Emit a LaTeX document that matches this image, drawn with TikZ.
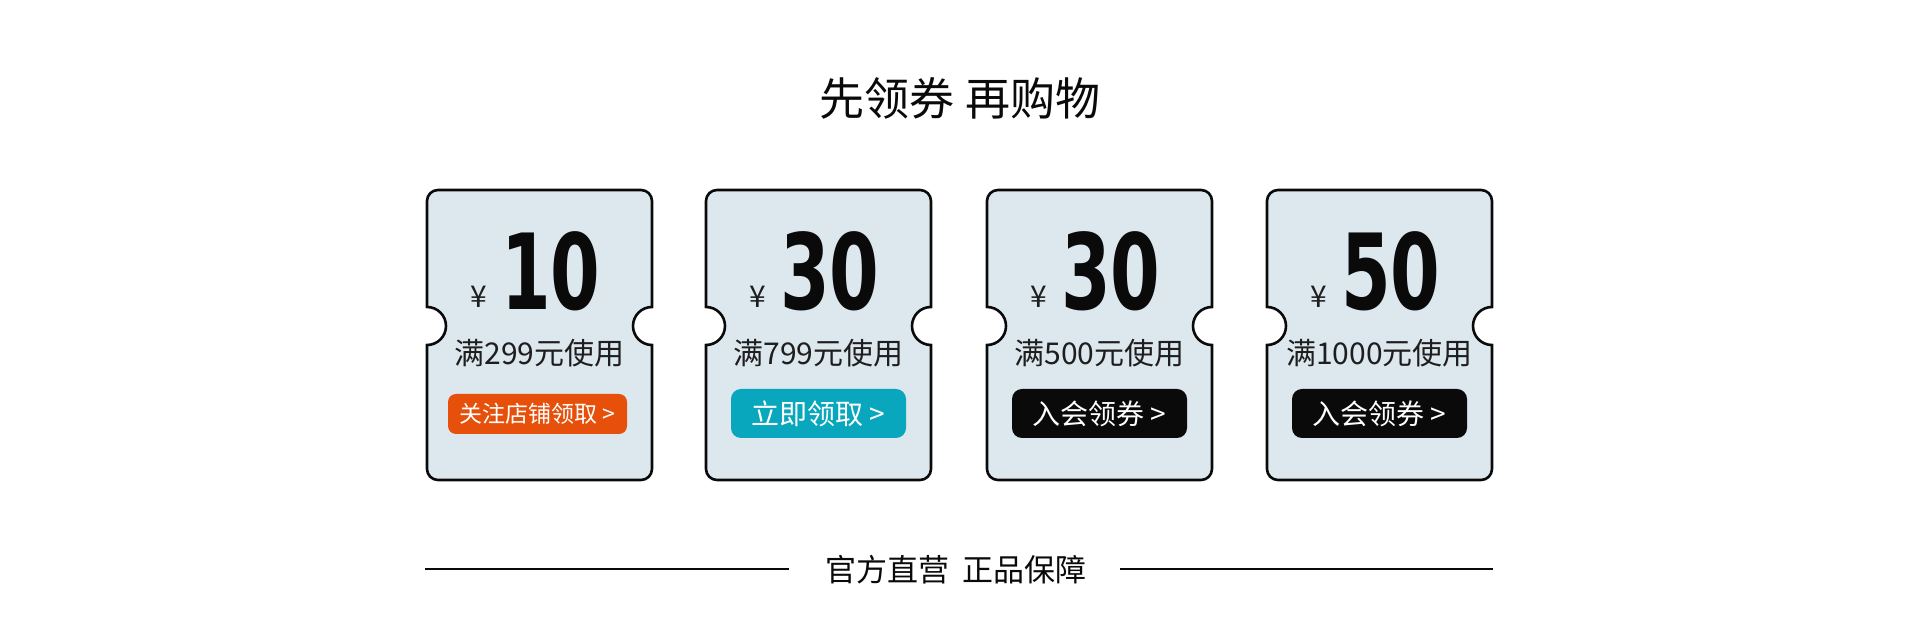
\documentclass[tikz,border=0pt]{standalone}
\usepackage{fontspec}
\setmainfont{Noto Sans CJK SC}
\newfontfamily\numfont[FakeStretch=0.68]{DejaVu Sans}
\begin{document}
\begin{tikzpicture}[x=1pt, y=1pt, inner sep=0pt, outer sep=0pt,
  coupon/.style={line width=2.6, draw=L, fill=C},
  yen/.style={anchor=base west, text=T, font=\fontsize{30}{36}\selectfont},
  amount/.style={anchor=base west, text=L, font=\numfont\bfseries\fontsize{105}{120}\selectfont},
  cond/.style={text=T, font=\fontsize{30}{36}\selectfont},
  button/.style={rounded corners=10, minimum width=175, minimum height=49, text=white, font=\fontsize{28}{34}\selectfont},
  rule/.style={line width=2.4, draw=L}]
\path[line width=0] (0,0) rectangle (1920,642);
\definecolor{L}{HTML}{0A0A0A}
\definecolor{T}{HTML}{1E1E1E}
\definecolor{C}{HTML}{DCE7EE}
\definecolor{O}{HTML}{E6500A}
\definecolor{G}{HTML}{08A7BD}
\node[text=L, font=\fontsize{45}{54}\selectfont] (title) at (960,544) {先领券 再购物};
% coupon 1
\path[coupon] (427,297) arc[start angle=-90, end angle=90, radius=19] -- (427,441) arc[start angle=180, end angle=90, radius=11] -- (641,452) arc[start angle=90, end angle=0, radius=11] -- (652,335) arc[start angle=90, end angle=270, radius=19] -- (652,173) arc[start angle=0, end angle=-90, radius=11] -- (438,162) arc[start angle=270, end angle=180, radius=11] -- cycle;
\node[yen] (yen1) at (470,334) {¥};
\node[amount] (amt1) at (501,332) {10};
\node[cond] (cond1) at (539.5,289) {满299元使用};
\node[button, fill=O, minimum width=179, minimum height=40, rounded corners=8, font=\fontsize{23}{28}\selectfont] (btn1) at (537.5,228) {关注店铺领取 >};
% coupon 2
\path[coupon] (706,297) arc[start angle=-90, end angle=90, radius=19] -- (706,441) arc[start angle=180, end angle=90, radius=11] -- (920,452) arc[start angle=90, end angle=0, radius=11] -- (931,335) arc[start angle=90, end angle=270, radius=19] -- (931,173) arc[start angle=0, end angle=-90, radius=11] -- (717,162) arc[start angle=270, end angle=180, radius=11] -- cycle;
\node[yen] (yen2) at (749,334) {¥};
\node[amount] (amt2) at (780,332) {30};
\node[cond] (cond2) at (818.5,289) {满799元使用};
\node[button, fill=G] (btn2) at (818.5,228.5) {立即领取 >};
% coupon 3
\path[coupon] (987,297) arc[start angle=-90, end angle=90, radius=19] -- (987,441) arc[start angle=180, end angle=90, radius=11] -- (1201,452) arc[start angle=90, end angle=0, radius=11] -- (1212,335) arc[start angle=90, end angle=270, radius=19] -- (1212,173) arc[start angle=0, end angle=-90, radius=11] -- (998,162) arc[start angle=270, end angle=180, radius=11] -- cycle;
\node[yen] (yen3) at (1030,334) {¥};
\node[amount] (amt3) at (1061,332) {30};
\node[cond] (cond3) at (1099.5,289) {满500元使用};
\node[button, fill=L] (btn3) at (1099.5,228.5) {入会领券 >};
% coupon 4
\path[coupon] (1267,297) arc[start angle=-90, end angle=90, radius=19] -- (1267,441) arc[start angle=180, end angle=90, radius=11] -- (1481,452) arc[start angle=90, end angle=0, radius=11] -- (1492,335) arc[start angle=90, end angle=270, radius=19] -- (1492,173) arc[start angle=0, end angle=-90, radius=11] -- (1278,162) arc[start angle=270, end angle=180, radius=11] -- cycle;
\node[yen] (yen4) at (1310,334) {¥};
\node[amount] (amt4) at (1341,332) {50};
\node[cond] (cond4) at (1379.5,289) {满1000元使用};
\node[button, fill=L] (btn4) at (1379.5,228.5) {入会领券 >};
% footer
\node[text=L, font=\fontsize{31}{37}\selectfont] (tagline) at (956,72) {官方直营\hspace{13pt}正品保障};
\coordinate (ruleA) at (425,73);
\coordinate (ruleB) at (789,73);
\coordinate (ruleC) at (1120,73);
\coordinate (ruleD) at (1493,73);
\draw[rule] (ruleA) -- (ruleB);
\draw[rule] (ruleC) -- (ruleD);
\end{tikzpicture}
\end{document}
